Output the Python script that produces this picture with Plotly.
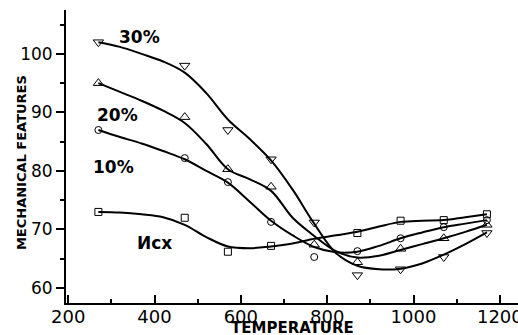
import plotly.graph_objects as go

# Measured data points (markers)
temps = [270, 470, 570, 670, 770, 870, 970, 1070, 1170]
p30 = [102.0, 98.0, 87.0, 82.0, 71.2, 62.2, 63.2, 65.3, 69.4]
p20 = [95.0, 89.2, 80.3, 77.3, 67.4, 64.4, 66.7, 68.5, 70.8]
p10 = [87.0, 82.2, 78.1, 71.3, 65.3, 66.3, 68.5, 70.4, 71.6]
temps_ref = [270, 470, 570, 670, 870, 970, 1070, 1170]
p_ref = [73.0, 72.0, 66.2, 67.2, 69.4, 71.5, 71.6, 72.6]

# Smoothed fit curves, every 50 degrees
curve_x = [270, 320, 370, 420, 470, 520, 570, 620, 670, 720,
           770, 820, 870, 920, 970, 1020, 1070, 1120, 1170]
c30_y = [102.0, 101.2, 100.0, 98.7, 96.8, 93.3, 88.8, 85.5, 81.8, 76.8,
         71.0, 66.0, 63.8, 63.2, 63.3, 64.2, 65.7, 67.5, 69.5]
c20_y = [95.0, 93.5, 92.0, 90.3, 88.2, 84.6, 80.3, 78.6, 76.6, 72.0,
         68.9, 66.3, 65.2, 65.5, 66.5, 67.5, 68.5, 69.6, 70.8]
c10_y = [87.0, 85.8, 84.7, 83.4, 82.0, 80.0, 78.0, 74.8, 71.5, 69.0,
         67.0, 66.1, 66.2, 67.2, 68.5, 69.5, 70.4, 71.0, 71.6]
cref_y = [73.0, 72.9, 72.6, 72.1, 70.8, 68.7, 67.1, 66.8, 67.1, 67.6,
          68.4, 69.0, 69.6, 70.5, 71.3, 71.5, 71.6, 72.1, 72.6]

labels = ["30%", "20%", "10%", "Исх"]
label_x = [366, 315, 304, 401]
label_y = [102.9, 89.6, 80.6, 67.7]

x_ticks = [200, 400, 600, 800, 1000, 1200]
y_ticks = [60, 70, 80, 90, 100]

fig = go.Figure()

for cy in [c30_y, c20_y, c10_y, cref_y]:
    fig.add_trace(go.Scatter(x=curve_x, y=cy, mode="lines",
                             line=dict(color="black", width=2, shape="spline", smoothing=1.0),
                             hoverinfo="skip", showlegend=False))

markers = [(temps, p30, "triangle-down-open", 9),
           (temps, p20, "triangle-up-open", 9),
           (temps, p10, "circle-open", 7),
           (temps_ref, p_ref, "square-open", 7)]
for mx, my, sym, sz in markers:
    fig.add_trace(go.Scatter(x=mx, y=my, mode="markers",
                             marker=dict(symbol=sym, size=sz, color="black",
                                         line=dict(color="black", width=1)),
                             showlegend=False))

for t, lx, ly in zip(labels, label_x, label_y):
    fig.add_annotation(x=lx, y=ly, text=t, showarrow=False,
                       font=dict(family="DejaVu Sans", size=17, color="black", weight="bold"))

# Axis titles as annotations (positioned like the reference)
fig.add_annotation(xref="paper", yref="paper", x=0.5, y=-0.086, text="TEMPERATURE",
                   showarrow=False, xanchor="center", yanchor="middle", borderpad=0,
                   font=dict(family="DejaVu Sans", size=15, color="black", weight="bold"))
fig.add_annotation(xref="paper", yref="paper", x=-0.097, y=0.478, text="MECHANICAL FEATURES",
                   showarrow=False, xanchor="center", yanchor="middle", textangle=-90, borderpad=0,
                   font=dict(family="DejaVu Sans", size=13, color="black", weight="bold"))

fig.update_layout(
    width=518, height=335,
    margin=dict(l=66, r=0, t=10, b=32, autoexpand=False),
    paper_bgcolor="white", plot_bgcolor="white",
    font=dict(family="DejaVu Sans", color="black"),
)
fig.update_xaxes(
    range=[195, 1242], tickvals=x_ticks, ticks="inside", ticklen=8, tickwidth=1.5,
    tickcolor="black", showline=True, linecolor="black", linewidth=2,
    showgrid=False, zeroline=False, tickfont=dict(size=18),
    ticklabelstandoff=-4, ticklabeloverflow="allow", automargin=False,
    minor=dict(tickvals=[300, 500, 700, 900, 1100], ticks="inside", ticklen=4, tickcolor="black"),
)
fig.update_yaxes(
    range=[57.44, 107.5], tickvals=y_ticks, ticks="outside", ticklen=8, tickwidth=1.5,
    tickcolor="black", showline=True, linecolor="black", linewidth=2,
    showgrid=False, zeroline=False, tickfont=dict(size=17), automargin=False,
    minor=dict(tickvals=[65, 75, 85, 95, 105], ticks="outside", ticklen=4, tickcolor="black"),
)

fig.write_html("out.html")
